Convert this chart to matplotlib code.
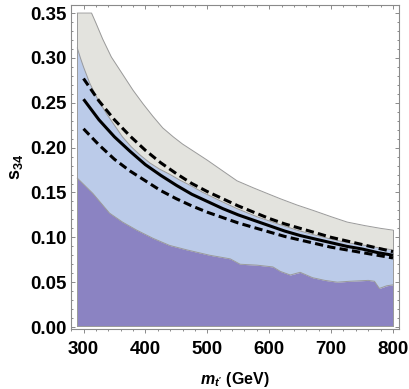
import numpy as np
import matplotlib.pyplot as plt

plt.rcParams['font.family'] = ['Liberation Sans', 'DejaVu Sans']
plt.rcParams['mathtext.fontset'] = 'custom'
plt.rcParams['mathtext.rm'] = 'Liberation Sans:bold'
plt.rcParams['mathtext.it'] = 'Liberation Sans:italic:bold'
plt.rcParams['mathtext.bf'] = 'Liberation Sans:bold'

# outer edge of the grey band
m_grey = [290, 313, 320, 331, 345, 363, 380, 396, 412, 428, 445, 460, 480, 500, 525,
          548, 575, 600, 618, 645, 671, 700, 726, 755, 780, 800]
s_grey = [0.35, 0.35, 0.339, 0.321, 0.301, 0.282, 0.264, 0.249, 0.235, 0.222, 0.212,
          0.204, 0.195, 0.186, 0.174, 0.163, 0.155, 0.148, 0.143, 0.136, 0.130, 0.123,
          0.117, 0.113, 0.110, 0.108]

# outer edge of the light blue band
m_blue = [290, 295, 300, 310, 323, 337, 350, 363, 377, 391, 407, 423, 440, 455, 475,
          493, 520, 548, 580, 618, 645, 671, 700, 726, 755, 780, 800]
s_blue = [0.311, 0.300, 0.290, 0.272, 0.254, 0.238, 0.225, 0.212, 0.201, 0.192, 0.183,
          0.176, 0.170, 0.164, 0.157, 0.150, 0.141, 0.132, 0.123, 0.114, 0.108, 0.103,
          0.098, 0.094, 0.091, 0.088, 0.086]

# top of the purple region
m_purple = [290, 315, 342, 363, 386, 412, 439, 467, 504, 537, 553, 580, 606, 618, 634,
            650, 670, 690, 710, 730, 760, 770, 778, 790, 800]
s_purple = [0.166, 0.149, 0.127, 0.117, 0.108, 0.099, 0.091, 0.086, 0.080, 0.076, 0.070,
            0.069, 0.067, 0.062, 0.058, 0.061, 0.055, 0.052, 0.050, 0.051, 0.052, 0.051,
            0.043, 0.046, 0.047]
s_floor = 0.0015

# black curves
m_line = [300, 325, 350, 375, 400, 425, 450, 475, 500, 525, 550, 575, 600, 625, 650,
          675, 700, 725, 750, 775, 800]
s_central = [0.254, 0.231, 0.212, 0.196, 0.181, 0.169, 0.158, 0.148, 0.140, 0.132, 0.125,
             0.119, 0.113, 0.107, 0.102, 0.098, 0.094, 0.090, 0.087, 0.083, 0.080]
s_upper = [0.277, 0.252, 0.231, 0.213, 0.197, 0.183, 0.171, 0.160, 0.151, 0.143, 0.135,
           0.128, 0.121, 0.115, 0.110, 0.105, 0.100, 0.096, 0.092, 0.088, 0.084]
s_lower = [0.221, 0.203, 0.187, 0.174, 0.163, 0.152, 0.143, 0.135, 0.128, 0.122, 0.116,
           0.111, 0.106, 0.101, 0.097, 0.093, 0.089, 0.086, 0.083, 0.080, 0.077]

c_grey = '#e3e3de'
c_blue = '#bbcbe9'
c_purple = '#8b83c2'
c_edge = '#9a9a9a'
c_frame = '#8a8a8a'

fig = plt.figure(figsize=(4.09, 3.89), dpi=100)
ax = fig.add_axes([71/409, 1-329/389, 328/409, 324/389])

# common grid so the bands can be stacked
m = np.array(sorted(set(m_grey) | set(m_blue) | set(m_purple)), dtype=float)
g = np.interp(m, m_grey, s_grey)
b = np.interp(m, m_blue, s_blue)
p = np.interp(m, m_purple, s_purple)

ax.fill_between(m, b, g, color=c_grey, lw=0)
ax.fill_between(m, p, b, color=c_blue, lw=0)
ax.fill_between(m, s_floor, p, color=c_purple, lw=0)

for yy in (g, b, p):
    ax.plot(m, yy, color=c_edge, lw=0.7)
ax.plot(m, np.full_like(m, s_floor), color=c_edge, lw=0.7)
ax.plot([290, 290], [s_floor, 0.35], color=c_edge, lw=0.7)
ax.plot([800, 800], [s_floor, s_grey[-1]], color=c_edge, lw=0.7)

ax.plot(m_line, s_central, color='black', lw=2.2, solid_capstyle='butt')
for s in (s_upper, s_lower):
    ax.plot(m_line, s, color='black', lw=2.2, dashes=(2.7, 1.4), dash_capstyle='butt')

ax.set_xlim(279.8, 809.7)
ax.set_ylim(-0.0022, 0.3590)
xmaj = [300, 400, 500, 600, 700, 800]
xmin = np.arange(280, 811, 20)
ax.set_xticks(xmaj)
ax.set_xticks(xmin, minor=True)
ax.set_yticks(np.arange(0, 0.351, 0.05))
ax.set_yticks(np.arange(0, 0.355, 0.01), minor=True)
ax.yaxis.set_major_formatter(plt.FormatStrFormatter('%.2f'))

for sp in ax.spines.values():
    sp.set_color(c_frame)
    sp.set_linewidth(0.8)

ax.tick_params(which='both', color=c_frame, width=0.7, labelsize=13.5)
ax.tick_params(axis='y', which='both', direction='in', right=True, pad=3)
ax.tick_params(axis='x', which='both', direction='out', top=False, pad=6)
ax.tick_params(which='major', length=3)
ax.tick_params(which='minor', length=1.6)

# inward ticks along the top
sec = ax.secondary_xaxis('top')
sec.set_xticks(xmaj)
sec.set_xticks(xmin, minor=True)
sec.tick_params(which='both', direction='in', labeltop=False, color=c_frame, width=0.7)
sec.tick_params(which='major', length=3)
sec.tick_params(which='minor', length=1.6)
sec.spines['top'].set_visible(False)

for lab in ax.get_xticklabels() + ax.get_yticklabels():
    lab.set_fontweight('bold')

ax.set_xlabel(r"$m_{t'}$ (GeV)", fontsize=11.5, fontweight='bold', labelpad=8)
ax.set_ylabel(r"$\mathrm{s}_{34}$", fontsize=13, fontweight='bold', labelpad=4)

fig.savefig('out.png', dpi=100)
